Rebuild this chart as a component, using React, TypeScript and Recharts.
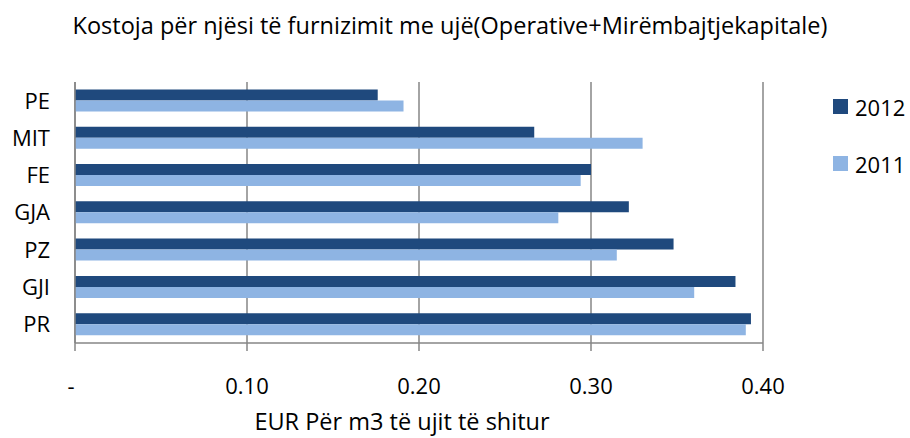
import React from 'react';
import { BarChart, Bar, XAxis, YAxis, CartesianGrid, Legend, Label } from 'recharts';

const categories = ['PE', 'MIT', 'FE', 'GJA', 'PZ', 'GJI', 'PR'];
const values2012 = [0.176, 0.267, 0.3, 0.322, 0.348, 0.384, 0.393];
const values2011 = [0.191, 0.33, 0.294, 0.281, 0.315, 0.36, 0.39];
const xTicks = [0, 0.1, 0.2, 0.3, 0.4];
const boundaryTicks = [0, 1, 2, 3, 4, 5, 6, 7];
const seriesNames = ['2012', '2011'];
const seriesColors = ['#1F497D', '#8EB4E3'];
const title = 'Kostoja për njësi të furnizimit me ujë(Operative+Mirëmbajtjekapitale)';
const axisTitle = 'EUR Për m3 të ujit të shitur';

const data = categories.map((name, i) => ({
  name,
  [seriesNames[0]]: values2012[i],
  [seriesNames[1]]: values2011[i],
}));

const FONT = "'Open Sans', sans-serif";
const FS = 22;
const TITLE_FS = 23.5;
const GRAY = '#868686';

const XTick = (props: any) => {
  const { x, y, payload } = props;
  const isZero = payload.value === 0;
  return (
    <text x={x} y={y} dx={isZero ? -4 : 0} dy={41} textAnchor="middle" fontFamily={FONT} fontSize={FS} fill="#000">
      {isZero ? '-' : payload.value.toFixed(2)}
    </text>
  );
};

const YTick = (props: any) => {
  const { x, y, payload } = props;
  return (
    <text x={x} y={y} dy="0.36em" textAnchor="end" fontFamily={FONT} fontSize={FS} fill="#000">
      {payload.value}
    </text>
  );
};

const LegendContent = (props: any) => {
  const items = [...(props.payload || [])].sort(
    (a: any, b: any) => seriesNames.indexOf(String(a.value)) - seriesNames.indexOf(String(b.value))
  );
  return (
    <div style={{ fontFamily: FONT, fontSize: FS }}>
      {items.map((p: any, i: number) => (
        <div key={i} style={{ display: 'flex', alignItems: 'center', height: 15, marginBottom: 42, whiteSpace: 'nowrap' }}>
          <span style={{ display: 'inline-block', width: 15, height: 15, background: p.color, marginRight: 7 }} />
          <span style={{ lineHeight: '30px', color: '#000' }}>{p.value}</span>
        </div>
      ))}
    </div>
  );
};

const AxisTitle = (props: any) => {
  const { viewBox } = props;
  return (
    <text x={viewBox.x + viewBox.width / 2} y={viewBox.y + viewBox.height} dx={-17} dy={-8} textAnchor="middle" fontFamily={FONT} fontSize={TITLE_FS} fill="#000">
      {axisTitle}
    </text>
  );
};

export default function App() {
  return (
    <div style={{ position: 'absolute', left: 0, top: 0, width: 910, height: 438, background: '#fff' }}>
      <div
        style={{
          position: 'absolute',
          left: 0,
          top: 9,
          width: 900,
          textAlign: 'center',
          fontFamily: FONT,
          fontSize: TITLE_FS,
          lineHeight: '32px',
          color: '#000',
          whiteSpace: 'nowrap',
        }}
      >
        {title}
      </div>
      <BarChart
        width={910}
        height={438}
        data={data}
        layout="vertical"
        margin={{ top: 82, right: 147, bottom: 0, left: 0 }}
        barCategoryGap="20%"
        barGap={0}
      >
        <CartesianGrid horizontal={false} vertical stroke={GRAY} strokeWidth={1.5} />
        <YAxis
          yAxisId="grid"
          type="number"
          domain={[0, 7]}
          ticks={boundaryTicks}
          width={0}
          tick={false}
          axisLine={false}
          tickSize={8}
          tickLine={{ stroke: GRAY, strokeWidth: 1.5 }}
        />
        <YAxis
          type="category"
          dataKey="name"
          width={75}
          tickLine={false}
          tickSize={8}
          tickMargin={17}
          axisLine={{ stroke: GRAY, strokeWidth: 1.5 }}
          tick={<YTick />}
        />
        <XAxis
          type="number"
          domain={[0, 0.4]}
          ticks={xTicks}
          height={95}
          tickSize={8}
          axisLine={{ stroke: GRAY, strokeWidth: 1.5 }}
          tickLine={{ stroke: GRAY, strokeWidth: 1.5 }}
          tick={<XTick />}
        >
          <Label content={<AxisTitle />} />
        </XAxis>
        <Legend
          layout="vertical"
          align="center"
          verticalAlign="middle"
          content={<LegendContent />}
          wrapperStyle={{ left: 833, top: 99, width: 80, height: 80 }}
        />
        <Bar dataKey={seriesNames[0]} fill={seriesColors[0]} isAnimationActive={false} />
        <Bar dataKey={seriesNames[1]} fill={seriesColors[1]} isAnimationActive={false} />
      </BarChart>
    </div>
  );
}
